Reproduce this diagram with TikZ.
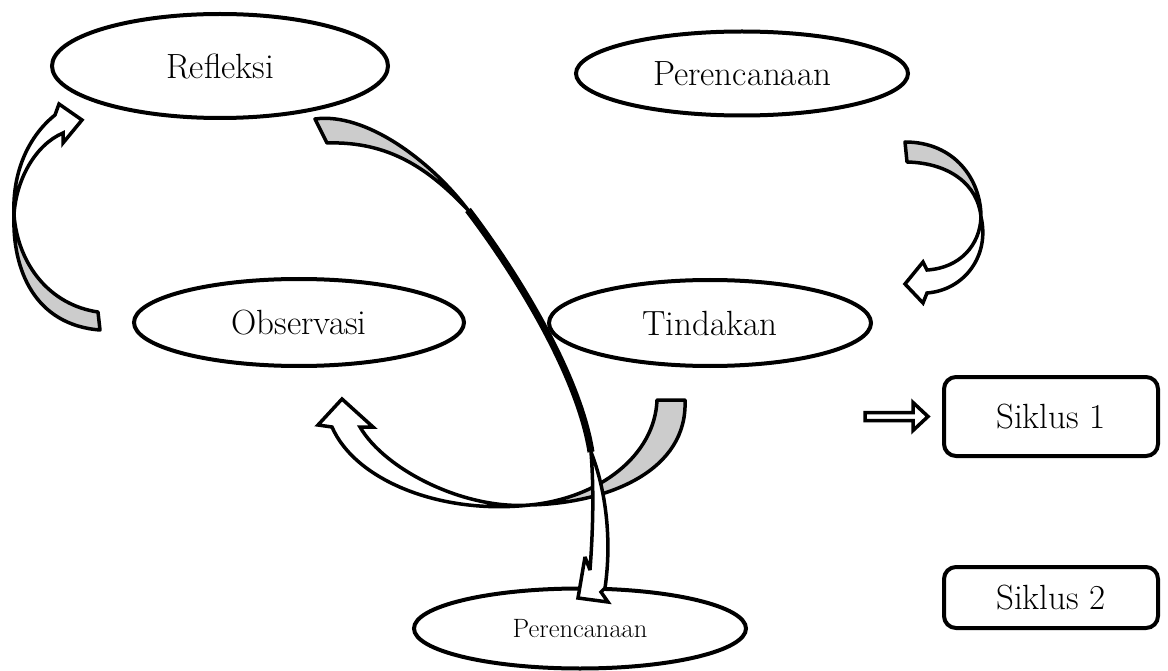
\documentclass[tikz,border=0pt]{standalone}
\usepackage{fontspec}
\usetikzlibrary{calc,shapes.geometric}
\definecolor{agray}{RGB}{204,204,204}
\tikzset{
  ell/.style={draw, ellipse, line width=4pt, inner sep=0pt, font=\fontsize{35}{40}\selectfont},
  sbox/.style={draw, rectangle, rounded corners=12pt, line width=4pt, minimum width=214pt, inner sep=0pt, font=\fontsize{35}{40}\selectfont},
  graylobe/.style={fill=agray, draw=black, line width=3.5pt, line join=round},
  whitelobe/.style={fill=white, draw=black, line width=3.5pt, line join=miter, miter limit=3},
}
\begin{document}
\begin{tikzpicture}[x=1pt,y=-1pt]
\useasboundingbox[fill=white] (0,0) rectangle (1168,671);

% ellipses
\node[ell, minimum width=336pt, minimum height=104pt] (refl) at (220,66) {Refleksi};
\node[ell, minimum width=332pt, minimum height=84pt] (plan1) at (742,73.5) {Perencanaan};
\node[ell, minimum width=330pt, minimum height=87pt] (obs) at (299,322.5) {Observasi};
\node[ell, minimum width=322pt, minimum height=86pt] (tind) at (710,323) {Tindakan};
\node[ell, minimum width=332pt, minimum height=80pt, font=\fontsize{26.5}{30}\selectfont] (plan2) at (580,628.5) {Perencanaan};

% cycle boxes
\node[sbox, minimum height=79pt] (s1) at (1051,416.5) {Siklus 1};
\node[sbox, minimum height=61pt] (s2) at (1051,597.5) {Siklus 2};

% arrow: Observasi -> Refleksi
\filldraw[graylobe] (98,312) .. controls (50,305) and (18,265) .. (14,215)
   .. controls (12,270) and (35,325) .. (100,330) -- cycle;
\filldraw[whitelobe] (14,215) .. controls (12,170) and (30,135) .. (55,115)
   -- (59,104) -- (82,120) -- (63,143) -- (63,133)
   .. controls (35,145) and (16,180) .. (14,215) -- cycle;

% arrow: Perencanaan -> Tindakan
\filldraw[graylobe] (905,142) .. controls (955,142) and (981,180) .. (981,217)
   .. controls (978,185) and (950,163) .. (907,162) -- cycle;
\filldraw[whitelobe] (981,217) .. controls (980,245) and (960,268) .. (927,270)
   -- (923,262) -- (905,284) -- (923,303) -- (927,293)
   .. controls (965,290) and (990,255) .. (981,217) -- cycle;

% arrow: Tindakan -> Observasi
\filldraw[graylobe] (685,400) .. controls (688,470) and (610,503) .. (530,505)
   .. controls (600,498) and (655,455) .. (657,400) -- cycle;
\filldraw[whitelobe] (530,505) .. controls (465,510) and (385,470) .. (360,427)
   -- (373,427) -- (342,399) -- (318,425) -- (332,427)
   .. controls (355,480) and (440,515) .. (530,505) -- cycle;

% arrow: Refleksi -> Perencanaan (cycle 2)
\filldraw[graylobe] (315,119) .. controls (365,112) and (430,160) .. (468,210)
   .. controls (430,170) and (390,141) .. (327,143) -- cycle;
\draw[line width=7pt] (468,210) .. controls (510,265) and (578,370) .. (591,452);
\filldraw[whitelobe] (591,452) .. controls (594,490) and (593,530) .. (590,570)
   -- (585,557) -- (578,598) -- (608,602) -- (601,592) -- (605,588)
   .. controls (612,540) and (606,490) .. (591,452) -- cycle;

% double arrow to Siklus 1
\coordinate (dt) at ($(s1.west)+(-14,0)$);
\filldraw[fill=white, line width=3.5pt, line join=miter] (dt) -- ++(-15,-14) -- ++(0,10) -- ++(-48,0)
   -- ++(0,8) -- ++(48,0) -- ++(0,10) -- cycle;
\end{tikzpicture}
\end{document}
